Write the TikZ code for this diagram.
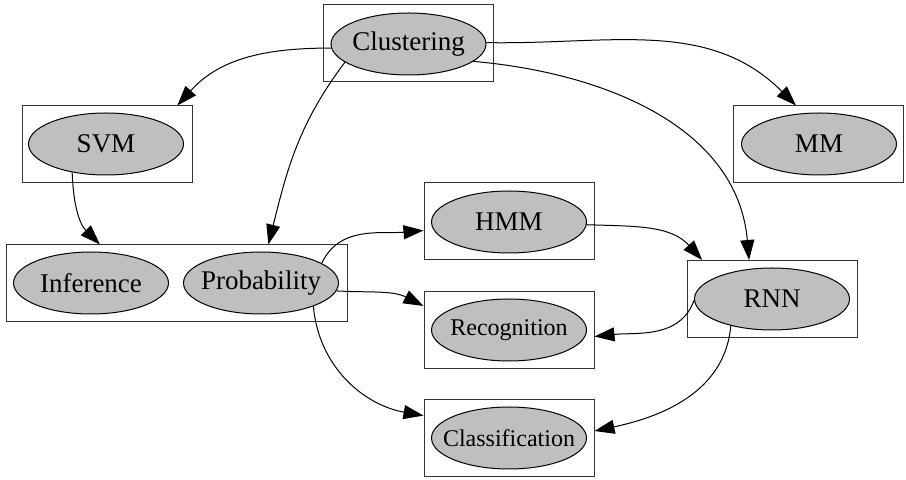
\documentclass[tikz,border=0pt]{standalone}
\usepackage{fontspec}
\setmainfont{Liberation Serif}
\usetikzlibrary{shapes.geometric,arrows.meta}
\newcommand{\nobox}[1]{\makebox[0pt]{#1}}
\begin{document}
\begin{tikzpicture}[x=0.5pt,y=0.5pt,
		blob/.style={ellipse, draw, fill=black!25, line width=0.5pt, inner sep=0pt,
			minimum width=77.5pt, minimum height=31pt, font=\fontsize{13.5}{16}\selectfont},
		small/.style={font=\fontsize{12}{14}\selectfont},
		box/.style={rectangle, draw=black!80, line width=0.5pt, minimum width=85pt, minimum height=38.5pt},
		link/.style={-{Triangle[length=10pt,width=7pt]}, line width=0.5pt}]
		\useasboundingbox (0,0) rectangle (906,-480);
		% clusters
		\node[box] (cClu) at (408,-43.5) {};
		\node[box] (cSvm) at (107,-144.5) {};
		\node[box, minimum width=170.5pt] (cInf) at (176.5,-283.5) {};
		\node[box] (cHmm) at (509,-221.5) {};
		\node[box] (cRec) at (509,-330.5) {};
		\node[box] (cCls) at (509,-438.5) {};
		\node[box] (cMm) at (818.5,-144.5) {};
		\node[box] (cRnn) at (772.5,-299) {};
		% ellipses
		\node[blob] (clu) at (408.5,-44) {\nobox{Clustering}};
		\node[blob] (svm) at (106,-144) {\nobox{SVM}};
		\node[blob] (inf) at (91,-283) {\nobox{Inference}};
		\node[blob] (prob) at (261,-283) {\nobox{Probability}};
		\node[blob] (hmm) at (509,-222) {\nobox{HMM}};
		\node[blob, small] (rec) at (509,-330) {\nobox{Recognition}};
		\node[blob, small] (cls) at (509,-438) {\nobox{Classification}};
		\node[blob] (mm) at (819,-144) {\nobox{MM}};
		\node[blob] (rnn) at (772,-299) {\nobox{RNN}};
		% edges into clusters
		\draw[link] (clu.183) to[out=180, in=48] (cSvm.29);
		\draw[link] (clu.196) to[out=233, in=76] (cInf.23);
		\draw[link] (clu.1) to[out=-1, in=135] (cMm.120);
		\draw[link] (clu.-15) to[out=-5, in=95] (cRnn.121);
		\draw[link] (svm.220) to[out=-88, in=135] (cInf.153);
		\draw[link] (prob.18) to[out=65, in=185] (cHmm.186);
		\draw[link] (prob.-6) to[out=-3, in=153] (cRec.164);
		\draw[link] (prob.-24) to[out=-85, in=170] (cCls.165);
		\draw[link] (hmm.-2) to[out=-2, in=132] (cRnn.151);
		\draw[link] (rnn.181) to[out=-110, in=6] (cRec.-4);
		\draw[link] (rnn.213) to[out=-95, in=12] (cCls.5);
	\end{tikzpicture}
\end{document}
